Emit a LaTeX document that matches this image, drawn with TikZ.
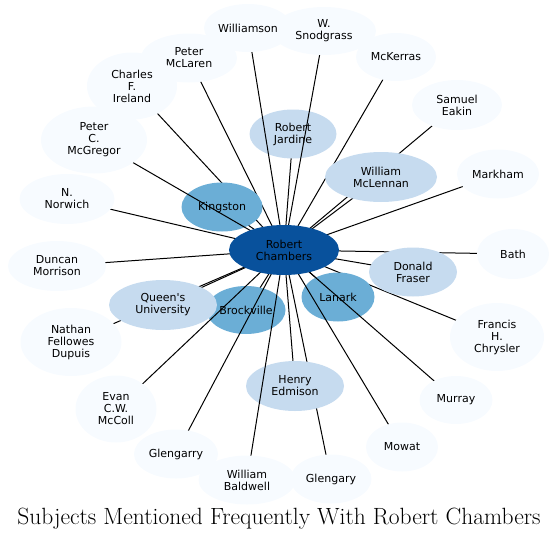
\documentclass[tikz,border=0pt]{standalone}
\usepackage{fontspec}
\newfontfamily\labelfont{DejaVu Sans}
\usetikzlibrary{shapes.geometric}

\definecolor{blue0}{HTML}{F7FBFF}
\definecolor{blue1}{HTML}{C6DBEF}
\definecolor{blue2}{HTML}{6BAED6}
\definecolor{blue3}{HTML}{08519C}

\pgfdeclarelayer{lower}
\pgfdeclarelayer{middle}
\pgfdeclarelayer{upper}
\pgfsetlayers{lower,middle,upper,main}

\begin{document}
\begin{tikzpicture}[x=1pt,y=-1pt,
    subject/.style={ellipse, inner sep=0pt, align=center,
        font=\labelfont\fontsize{11}{12}\selectfont},
    size/.style 2 args={minimum width=#1pt, minimum height=#2pt},
    rare/.style={subject, fill=blue0},
    some/.style={subject, fill=blue1},
    often/.style={subject, fill=blue2},
    hub/.style={subject, fill=blue3},
    link/.style={draw=black, line width=1pt}]

    \useasboundingbox (0,0) rectangle (559,541);

    % nodes that edges may cross
    \begin{pgfonlayer}{middle}
    \node[often,size={81}{49}] (kin) at (222,207) {Kingston};
    \node[often,size={79}{48}] (bro) at (246,310) {Brockville};
    \node[often,size={73}{49}] (lan) at (338,297) {Lanark};
    \node[some,size={87}{49}] (jar) at (293,134) {Robert\\Jardine};
    \node[some,size={98}{50}] (edm) at (295,386) {Henry\\Edmison};
    \end{pgfonlayer}

    % outer ring
    \node[rare,size={104}{48}] (snod) at (324,31) {W.\\Snodgrass};
    \node[rare,size={88}{48}] (wil) at (248,28) {Williamson};
    \node[rare,size={80}{48}] (mck) at (396,57) {McKerras};
    \node[rare,size={90}{50}] (eak) at (457,105) {Samuel\\Eakin};
    \node[rare,size={82}{49}] (mar) at (498,174) {Markham};
    \node[rare,size={96}{49}] (mcla) at (189,58) {Peter\\McLaren};
    \node[rare,size={90}{67}] (ire) at (132,86) {Charles\\F.\\Ireland};
    \node[rare,size={106}{67}] (mcg) at (94,140) {Peter\\C.\\McGregor};
    \node[rare,size={95}{50}] (nor) at (67,199) {N.\\Norwich};
    \node[rare,size={98}{50}] (mor) at (57,266) {Duncan\\Morrison};
    \node[rare,size={101}{68}] (dup) at (71,342) {Nathan\\Fellowes\\Dupuis};
    \node[rare,size={81}{67}] (mcc) at (116,409) {Evan\\C.W.\\McColl};
    \node[rare,size={84}{49}] (gly) at (176,454) {Glengarry};
    \node[rare,size={97}{49}] (bal) at (247,480) {William\\Baldwell};
    \node[rare,size={81}{49}] (gln) at (331,479) {Glengary};
    \node[rare,size={72}{49}] (mow) at (402,447) {Mowat};
    \node[rare,size={73}{48}] (mur) at (456,400) {Murray};
    \node[rare,size={94}{68}] (chr) at (497,337) {Francis\\H.\\Chrysler};
    \node[rare,size={72}{50}] (bat) at (513,254) {Bath};

    % inner ring
    \node[some,size={112}{50}] (mcl) at (381,177) {William\\McLennan};
    \node[some,size={108}{50}] (que) at (163,305) {Queen's\\University};
    \node[some,size={88}{49}] (fra) at (413,272) {Donald\\Fraser};

    \node[hub,size={110}{50}] (rc) at (284,250) {Robert\\Chambers};

    % edges under the middle nodes
    \begin{pgfonlayer}{lower}
    \draw[link] (rc.center) -- (kin.center);
    \draw[link] (rc.center) -- (bro.center);
    \draw[link] (rc.center) -- (lan.center);
    \draw[link] (rc.center) -- (jar.center);
    \draw[link] (rc.center) -- (edm.center);
    \draw[link] (rc.center) -- (mck.center);
    \draw[link] (rc.center) -- (eak.center);
    \draw[link] (rc.center) -- (mar.center);
    \draw[link] (rc.center) -- (mcla.center);
    \draw[link] (rc.center) -- (ire.center);
    \draw[link] (rc.center) -- (nor.center);
    \draw[link] (rc.center) -- (mor.center);
    \draw[link] (rc.center) -- (dup.center);
    \draw[link] (rc.center) -- (gln.center);
    \draw[link] (rc.center) -- (chr.center);
    \draw[link] (rc.center) -- (bat.center);
    \draw[link] (rc.center) -- (mcl.center);
    \draw[link] (rc.center) -- (que.center);
    \draw[link] (rc.center) -- (fra.center);
    \end{pgfonlayer}

    % edges over the middle nodes
    \begin{pgfonlayer}{upper}
    \draw[link] (rc.center) -- (wil.center);
    \draw[link] (rc.center) -- (snod.center);
    \draw[link] (rc.center) -- (mcg.center);
    \draw[link] (rc.center) -- (mcc.center);
    \draw[link] (rc.center) -- (gly.center);
    \draw[link] (rc.center) -- (bal.center);
    \draw[link] (rc.center) -- (mow.center);
    \draw[link] (rc.center) -- (mur.center);
    \end{pgfonlayer}

    \node[font=\fontsize{23.5}{27}\selectfont] (title) at (279,519)
        {Subjects Mentioned Frequently With Robert Chambers};
\end{tikzpicture}
\end{document}
